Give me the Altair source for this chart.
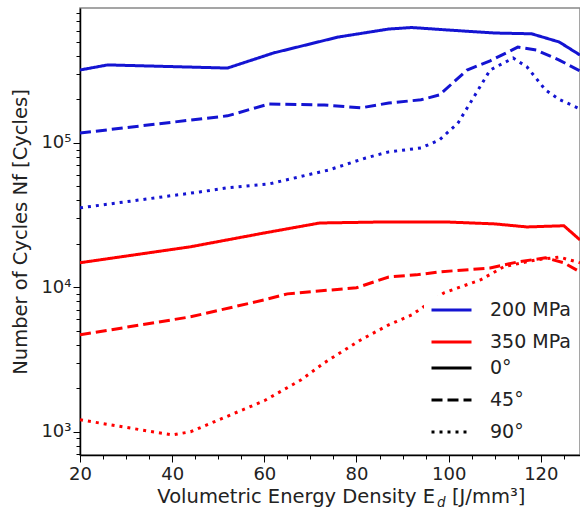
import altair as alt
import pandas as pd

# ---- data ----
E_200_0 = [20, 26, 52, 62, 76, 87, 92, 100, 110, 118, 124, 128.5]
N_200_0 = [320000, 347000, 330000, 420000, 541000, 615000, 630000, 605000, 577000, 570000, 500000, 406000]

E_200_45 = [20, 44, 52, 61, 73, 81, 87, 94, 98, 104, 109, 115, 119, 124, 128.5]
N_200_45 = [117000, 144000, 154000, 186000, 183000, 175000, 189000, 199000, 215000, 320000, 370000, 461000, 440000, 375000, 315000]

E_200_90 = [20, 46, 52, 61, 74, 82, 87, 94, 98, 102, 106, 109, 114, 117, 121, 124, 128.5]
N_200_90 = [35500, 45800, 48900, 52000, 65000, 78700, 86700, 92300, 105000, 137000, 222000, 320000, 387000, 336000, 233000, 200000, 172000]

E_350_0 = [20, 44, 60, 72, 87, 99, 110, 117, 125, 128.5]
N_350_0 = [14800, 19100, 23800, 27900, 28400, 28400, 27500, 26200, 26700, 21300]

E_350_45 = [20, 44, 60, 65, 80, 87, 93, 98, 109, 115, 121, 125, 128.5]
N_350_45 = [4690, 6250, 8190, 9010, 9940, 11800, 12200, 12800, 13600, 15000, 16000, 14800, 12800]

E_350_90 = [20, 40, 44, 60, 68, 73, 81, 87, 92, 99, 107, 112, 119, 124, 128.5]
N_350_90 = [1210, 950, 1000, 1640, 2290, 3000, 4340, 5500, 6450, 9160, 11300, 13900, 15500, 16200, 14800]

stress_labels = ["200 MPa", "350 MPa"]
orient_labels = ["0°", "45°", "90°"]
x_major = [20, 40, 60, 80, 100, 120]
x_minor = [25, 30, 35, 45, 50, 55, 65, 70, 75, 85, 90, 95, 105, 110, 115, 125]
y_major = [1000, 10000, 100000]
y_minor = [700, 800, 900,
           2000, 3000, 4000, 5000, 6000, 7000, 8000, 9000,
           20000, 30000, 40000, 50000, 60000, 70000, 80000, 90000,
           200000, 300000, 400000, 500000, 600000, 700000, 800000]

series = [
    ("200 MPa", "0°", E_200_0, N_200_0),
    ("200 MPa", "45°", E_200_45, N_200_45),
    ("200 MPa", "90°", E_200_90, N_200_90),
    ("350 MPa", "0°", E_350_0, N_350_0),
    ("350 MPa", "45°", E_350_45, N_350_45),
    ("350 MPa", "90°", E_350_90, N_350_90),
]
rows = []
for s, o, xs, ys in series:
    for xv, yv in zip(xs, ys):
        rows.append({"E": xv, "N": yv, "stress": s, "orient": o, "key": s + o})
df = pd.DataFrame(rows)

W, H = 500, 447
FONT = "DejaVu Sans"
TXT = "#222222"

xscale = alt.Scale(domain=[20, 128.5], nice=False, zero=False)
yscale = alt.Scale(type="log", domain=[690, 860000], nice=False)

lines = alt.Chart(df).mark_line(strokeWidth=3, clip=True).encode(
    x=alt.X("E:Q", scale=xscale,
            axis=alt.Axis(values=x_major, title=None, grid=False, tickSize=7,
                          labelFontSize=18, labelPadding=3, orient="bottom",
                          labelFlush=False, labelOverlap=False,
                          domainColor="black", domainWidth=1.5, tickColor="black",
                          labelColor=TXT, labelFont=FONT)),
    y=alt.Y("N:Q", scale=yscale,
            axis=alt.Axis(values=y_major, grid=False, tickSize=7, orient="left",
                          labelExpr="datum.value == 1000 ? '10³' : datum.value == 10000 ? '10⁴' : '10⁵'",
                          labelFontSize=18, labelPadding=2, labelColor=TXT, labelFont=FONT,
                          labelFlush=False,
                          domainColor="black", domainWidth=1.5, tickColor="black",
                          title="Number of Cycles Nf [Cycles]", titleFontSize=19.5,
                          titleFont=FONT, titleColor=TXT, titleFontWeight="normal",
                          titleX=-60, titleY=H / 2, titleAlign="center",
                          titleBaseline="middle", titleAngle=270)),
    color=alt.Color("stress:N",
                    scale=alt.Scale(domain=stress_labels, range=["#1414d2", "#ff0000"]),
                    legend=alt.Legend(orient="none", legendX=344, legendY=287.5, title=None,
                                      symbolType="stroke", symbolSize=1600, symbolStrokeWidth=3,
                                      labelFontSize=19, labelFont=FONT, labelColor=TXT,
                                      labelOffset=17, clipHeight=17, rowPadding=12,
                                      padding=6, fillColor="white")),
    strokeDash=alt.StrokeDash("orient:N",
                              scale=alt.Scale(domain=orient_labels, range=[[1, 0], [11, 5], [3, 5]]),
                              legend=alt.Legend(orient="none", legendX=344, legendY=345.5, title=None,
                                                symbolType="stroke", symbolSize=1600, symbolStrokeWidth=3,
                                                symbolStrokeColor="black",
                                                labelFontSize=19, labelFont=FONT, labelColor=TXT,
                                                labelOffset=17, clipHeight=17, rowPadding=12,
                                                padding=6, fillColor="white")),
    detail="key:N",
    order="E:Q",
)

minor = alt.Chart(df).mark_point(opacity=0).encode(
    x=alt.X("E:Q", scale=xscale,
            axis=alt.Axis(values=x_minor, labels=False, title=None, grid=False, tickSize=4,
                          domain=False, orient="bottom", tickColor="black")),
    y=alt.Y("N:Q", scale=yscale,
            axis=alt.Axis(values=y_minor, labels=False, title=None, grid=False, tickSize=4,
                          domain=False, orient="left", tickColor="black")),
)

t1 = alt.Chart(pd.DataFrame({"t": ["Volumetric Energy Density E"]})).mark_text(
    align="right", baseline="alphabetic", fontSize=19.5, font=FONT, color=TXT
).encode(text="t:N", x=alt.value(355), y=alt.value(495))
t2 = alt.Chart(pd.DataFrame({"t": ["d"]})).mark_text(
    align="left", baseline="alphabetic", fontSize=13.5, font=FONT, fontStyle="italic", color=TXT
).encode(text="t:N", x=alt.value(357), y=alt.value(499))
t3 = alt.Chart(pd.DataFrame({"t": ["[J/mm³]"]})).mark_text(
    align="left", baseline="alphabetic", fontSize=19.5, font=FONT, color=TXT
).encode(text="t:N", x=alt.value(372), y=alt.value(495))

chart = alt.layer(lines, minor, t1, t2, t3).resolve_axis(
    x="independent", y="independent"
).properties(
    width=W, height=H,
    autosize=alt.AutoSizeParams(type="none"),
    padding={"left": 80, "top": 8, "right": 0, "bottom": 57},
    background="white",
).configure_view(stroke="#888888", strokeWidth=1.5)

chart.save("out.html", embed_options={"renderer": "svg", "actions": False})
